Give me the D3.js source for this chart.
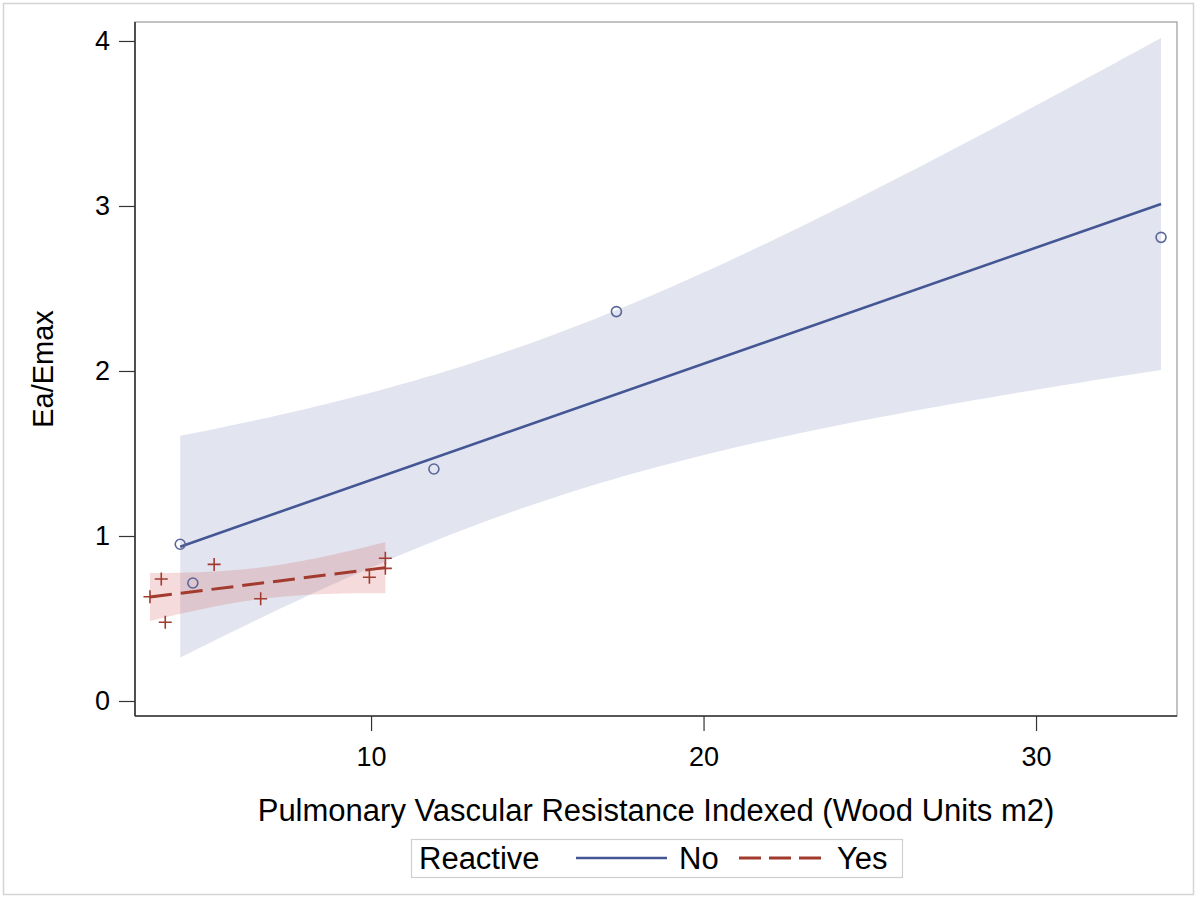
<!DOCTYPE html>
<html>
<head>
<meta charset="utf-8">
<script src="https://cdn.jsdelivr.net/npm/d3@7"></script>
<style>
  html, body { margin: 0; padding: 0; background: #fff; }
  svg { display: block; }
  text { font-family: "Liberation Sans", Arial, sans-serif; fill: #000; }
</style>
</head>
<body>
<svg id="chart" width="1200" height="899"></svg>
<script>
// ---- Data ----
const groupNames = ["No", "Yes"];
const legendTitle = "Reactive";
const xLabel = "Pulmonary Vascular Resistance Indexed (Wood Units m2)";
const yLabel = "Ea/Emax";
const xTicks = [10, 20, 30];
const yTicks = [0, 1, 2, 3, 4];

// Reactive = No (circles)
const noX = [4.26, 4.64, 11.89, 17.38, 33.76];
const noY = [0.95, 0.715, 1.406, 2.36, 2.81];
// Reactive = Yes (plus signs)
const yesX = [3.35, 3.69, 3.81, 5.28, 6.68, 9.95, 10.43, 10.43];
const yesY = [0.632, 0.739, 0.477, 0.828, 0.62, 0.75, 0.865, 0.804];

// two-sided 95% t critical values for the fit confidence bands (df = n-2)
const tCritNo = 3.182;
const tCritYes = 2.447;

const xDomain = [2.9, 34.24];
const yDomain = [-0.0909, 4.115];

// ---- Layout ----
const svg = d3.select("#chart");
const L = 135, R = 1177, T = 22, B = 716;

const x = d3.scaleLinear().domain(xDomain).range([L, R]);
const y = d3.scaleLinear().domain(yDomain).range([B, T]);

// outer border
svg.append("rect").attr("x", 3.5).attr("y", 3.5).attr("width", 1190).attr("height", 891)
  .attr("fill", "#fff").attr("stroke", "#d4d4d4").attr("stroke-width", 1.5);

// plot wall frame
svg.append("rect").attr("x", L).attr("y", T).attr("width", R - L).attr("height", B - T)
  .attr("fill", "#fff").attr("stroke", "#9a9a9a").attr("stroke-width", 1.2);

// ---- Regression fit + confidence band computed from the points ----
function fit(xs, ys, tcrit) {
  const n = xs.length;
  const mx = d3.mean(xs), my = d3.mean(ys);
  let sxx = 0, sxy = 0;
  for (let i = 0; i < n; i++) { sxx += (xs[i]-mx)**2; sxy += (xs[i]-mx)*(ys[i]-my); }
  const b = sxy / sxx, a = my - b * mx;
  let sse = 0;
  for (let i = 0; i < n; i++) sse += (ys[i] - (a + b*xs[i]))**2;
  const s = Math.sqrt(sse / (n - 2));
  const x0 = d3.min(xs), x1 = d3.max(xs);
  const grid = d3.range(0, 101).map(k => x0 + (x1 - x0) * k / 100);
  const band = grid.map(xv => {
    const yh = a + b * xv;
    const hw = tcrit * s * Math.sqrt(1/n + (xv - mx)**2 / sxx);
    return { x: xv, y: yh, lo: yh - hw, hi: yh + hw };
  });
  return { a, b, x0, x1, band };
}

const fitNo = fit(noX, noY, tCritNo);
const fitYes = fit(yesX, yesY, tCritYes);

const area = d3.area().x(d => x(d.x)).y0(d => y(d.lo)).y1(d => y(d.hi));
const line = d3.line().x(d => x(d.x)).y(d => y(d.y));

const colNo = "#445694", colNoFill = "#6F7EB3", colNoMark = "#5a6699";
const colYes = "#A23A2E", colYesFill = "#D05B5B";

const plot = svg.append("g");
plot.append("path").attr("d", area(fitNo.band)).attr("fill", colNoFill).attr("fill-opacity", 0.2);
plot.append("path").attr("d", area(fitYes.band)).attr("fill", colYesFill).attr("fill-opacity", 0.22);

plot.append("path").attr("d", line([fitNo.band[0], fitNo.band[fitNo.band.length-1]]))
  .attr("fill", "none").attr("stroke", colNo).attr("stroke-width", 2.6);
plot.append("path").attr("d", line([fitYes.band[0], fitYes.band[fitYes.band.length-1]]))
  .attr("fill", "none").attr("stroke", colYes).attr("stroke-width", 3)
  .attr("stroke-dasharray", "22,9");

// markers
const noPts = noX.map((v, i) => ({ x: v, y: noY[i] }));
const yesPts = yesX.map((v, i) => ({ x: v, y: yesY[i] }));

plot.selectAll("circle.no").data(noPts).enter().append("circle")
  .attr("class", "no").attr("cx", d => x(d.x)).attr("cy", d => y(d.y)).attr("r", 5)
  .attr("fill", "none").attr("stroke", colNoMark).attr("stroke-width", 1.6);

const plusSize = 6.5;
plot.selectAll("path.yes").data(yesPts).enter().append("path")
  .attr("class", "yes")
  .attr("d", d => {
    const cx = x(d.x), cy = y(d.y);
    return `M${cx-plusSize},${cy}H${cx+plusSize}M${cx},${cy-plusSize}V${cy+plusSize}`;
  })
  .attr("fill", "none").attr("stroke", colYes).attr("stroke-width", 1.6);

// ---- Axes ----
const xAxis = d3.axisBottom(x).tickValues(xTicks).tickSize(15).tickPadding(16).tickFormat(d3.format("d"));
const yAxis = d3.axisLeft(y).tickValues(yTicks).tickSize(16).tickPadding(9).tickFormat(d3.format("d"));

const gx = svg.append("g").attr("transform", `translate(0,${B})`).call(xAxis);
const gy = svg.append("g").attr("transform", `translate(${L},0)`).call(yAxis);
[gx, gy].forEach(g => {
  g.select(".domain").attr("stroke", "#333").attr("stroke-width", 1.6);
  g.selectAll(".tick line").attr("stroke", "#333").attr("stroke-width", 1.2);
  g.selectAll(".tick text").attr("fill", "#000").style("font-size", "27px")
    .style("font-family", "'Liberation Sans', Arial, sans-serif");
});
gx.select(".domain").attr("d", `M${L},0H${R}`);
gy.select(".domain").attr("d", `M0,${B}V${T}`);

// axis labels
svg.append("text").attr("x", (L + R) / 2).attr("y", 821).attr("text-anchor", "middle")
  .style("font-size", "31px").text(xLabel);
svg.append("text").attr("transform", `translate(53,${(T + B) / 2}) rotate(-90)`)
  .attr("text-anchor", "middle").style("font-size", "29px").text(yLabel);

// ---- Legend ----
const lg = svg.append("g");
lg.append("rect").attr("x", 411.5).attr("y", 839.5).attr("width", 491).attr("height", 38)
  .attr("fill", "#fff").attr("stroke", "#cfcfcf").attr("stroke-width", 1.2);
lg.append("text").attr("x", 419).attr("y", 869).style("font-size", "31px").text(legendTitle);
const legendItems = [
  { name: groupNames[0], color: colNo, dash: null, width: 2.6, x0: 576, x1: 667, tx: 679 },
  { name: groupNames[1], color: colYes, dash: "22,8", width: 3, x0: 739, x1: 821, tx: 837 }
];
legendItems.forEach(it => {
  lg.append("line").attr("x1", it.x0).attr("x2", it.x1).attr("y1", 858).attr("y2", 858)
    .attr("stroke", it.color).attr("stroke-width", it.width)
    .attr("stroke-dasharray", it.dash);
  lg.append("text").attr("x", it.tx).attr("y", 869).style("font-size", "31px").text(it.name);
});
</script>
</body>
</html>
